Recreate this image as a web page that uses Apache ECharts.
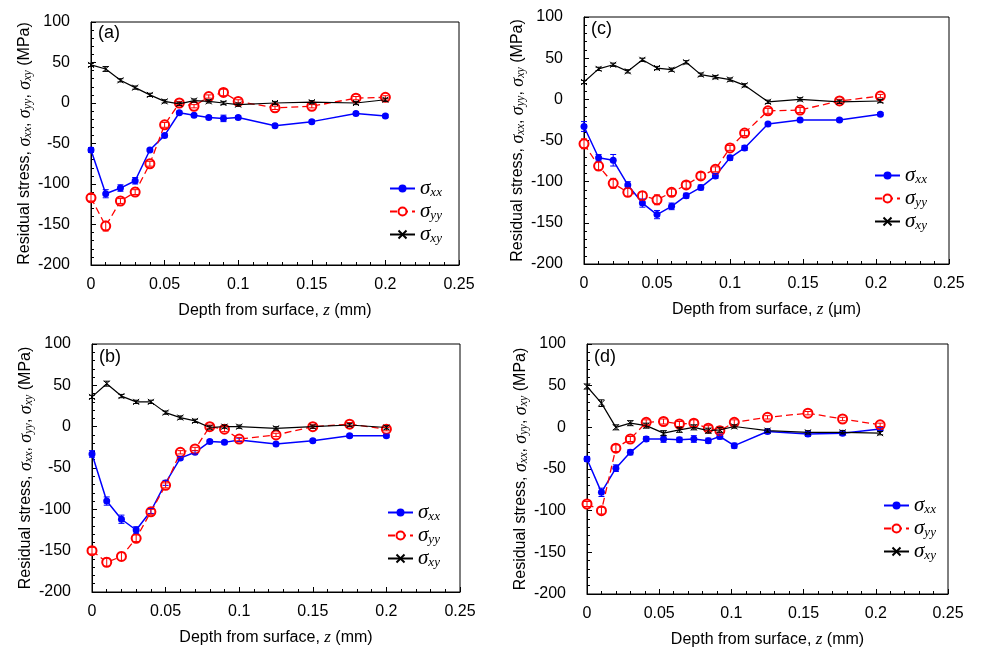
<!DOCTYPE html>
<html><head><meta charset="utf-8">
<script src="https://cdn.jsdelivr.net/npm/echarts@6/dist/echarts.min.js"></script>
<style>html,body{margin:0;padding:0;background:#fff}#c{width:988px;height:649px}</style>
</head><body><div id="c"></div>
<script>
// Panel (a)
const aDepth = [0,0.01,0.02,0.03,0.04,0.05,0.06,0.07,0.08,0.09,0.10,0.125,0.15,0.18,0.20];
const aSxx = [-58,-112,-105,-96,-58,-40,-12,-15,-18,-19,-18,-28,-23,-13,-16];
const aSyy = [-117,-152,-121,-110,-75,-27,0,-4,8,13,2,-6,-4,6,7];
const aSxy = [47,42,28,19,10,2,-1,3,2,0,-2,0,1,0,4];
const aExx = [3,5,4,4,2,2,2,2,2,4,2,2,2,2,2];
const aEyy = [4,6,3,3,3,3,2,2,2,4,2,2,2,2,2];
const aExy = [2,3,2,2,2,2,2,2,2,2,2,2,2,2,2];
// Panel (b)
const bDepth = [0,0.01,0.02,0.03,0.04,0.05,0.06,0.07,0.08,0.09,0.10,0.125,0.15,0.175,0.20];
const bSxx = [-33,-90,-112,-125,-102,-68,-38,-31,-18,-19,-16,-21,-17,-11,-11];
const bSyy = [-150,-164,-157,-135,-103,-71,-31,-27,0,-3,-15,-10,0,3,-3];
const bSxy = [36,52,37,30,30,17,11,7,-1,0,0,-2,0,2,-1];
const bExx = [4,5,5,4,3,3,2,2,2,2,2,2,2,2,2];
const bEyy = [4,5,5,4,3,3,2,2,2,3,2,2,2,2,2];
const bExy = [2,3,2,2,2,2,2,2,2,2,2,2,2,2,2];
// Panel (c)
const cDepth = [0,0.01,0.02,0.03,0.04,0.05,0.06,0.07,0.08,0.09,0.10,0.11,0.126,0.148,0.175,0.203];
const cSxx = [-33,-71,-74,-104,-126,-140,-130,-117,-107,-93,-71,-59,-30,-25,-25,-18];
const cSyy = [-54,-81,-102,-113,-117,-122,-113,-104,-93,-85,-59,-41,-14,-13,-2,4];
const cSxy = [21,37,42,34,48,38,36,45,30,27,24,17,-3,0,-3,-2];
const cExx = [6,4,7,4,5,5,4,3,3,3,3,3,2,2,2,2];
const cEyy = [6,5,6,5,5,6,4,4,4,3,3,3,3,3,2,2];
const cExy = [2,2,2,2,2,2,2,2,2,2,2,2,2,2,2,2];
// Panel (d)
const dDepth = [0,0.01,0.02,0.03,0.041,0.053,0.064,0.074,0.084,0.092,0.102,0.125,0.153,0.177,0.203];
const dSxx = [-38,-78,-49,-30,-14,-14,-15,-14,-16,-11,-22,-5,-8,-7,-2];
const dSyy = [-92,-100,-25,-14,6,7,4,5,-1,-4,6,12,17,10,3];
const dSxy = [49,29,0,5,2,-7,-3,0,-4,-3,1,-4,-6,-6,-7];
const dExx = [3,5,4,3,3,4,3,4,3,3,3,2,3,2,2];
const dEyy = [3,4,4,3,3,3,3,4,3,3,3,2,2,2,2];
const dExy = [3,4,3,3,3,3,3,3,3,3,2,2,2,2,2];

const xTicks = [0,0.05,0.1,0.15,0.2,0.25];
const yTicks = [-200,-150,-100,-50,0,50,100];

const panels = [
  {id:'a', label:'(a)', unit:'mm', depth:aDepth, xx:aSxx, yy:aSyy, xy:aSxy, exx:aExx, eyy:aEyy, exy:aExy,
   grid:{left:91, top:22, width:368, height:243}, legend:{left:384, top:173}, lab:{left:98, top:24}},
  {id:'c', label:'(c)', unit:'μm', depth:cDepth, xx:cSxx, yy:cSyy, xy:cSxy, exx:cExx, eyy:cEyy, exy:cExy,
   grid:{left:584, top:17, width:365, height:247}, legend:{left:869, top:160}, lab:{left:591, top:20}},
  {id:'b', label:'(b)', unit:'mm', depth:bDepth, xx:bSxx, yy:bSyy, xy:bSxy, exx:bExx, eyy:bEyy, exy:bExy,
   grid:{left:92, top:344, width:368, height:248}, legend:{left:382, top:497}, lab:{left:99, top:348}},
  {id:'d', label:'(d)', unit:'mm', depth:dDepth, xx:dSxx, yy:dSyy, xy:dSxy, exx:dExx, eyy:dEyy, exy:dExy,
   grid:{left:587, top:344, width:361, height:250}, legend:{left:878, top:490}, lab:{left:594, top:348}}
];

const serif = 'Liberation Serif';
const sans = 'Liberation Sans';
const rich = {
  s:{fontFamily:serif, fontStyle:'italic', fontSize:21, color:'#000'},
  t:{fontFamily:serif, fontStyle:'italic', fontSize:13, color:'#000', verticalAlign:'bottom', lineHeight:11},
  i:{fontFamily:serif, fontStyle:'italic', fontSize:17, color:'#000'}
};
const yrich = {
  s:{fontFamily:serif, fontStyle:'italic', fontSize:18, color:'#000'},
  t:{fontFamily:serif, fontStyle:'italic', fontSize:12, color:'#000', verticalAlign:'bottom', lineHeight:10},
  i:{fontFamily:serif, fontStyle:'italic', fontSize:17, color:'#000'}
};
const crossPath = 'path://M0,0L10,10M10,0L0,10';

const grids = [], xAxes = [], yAxes = [], series = [], legends = [], titles = [];
panels.forEach((p, k) => {
  grids.push(Object.assign({show:true, borderColor:'#000', borderWidth:1, backgroundColor:'transparent', outerBoundsMode:'none'}, p.grid));
  xAxes.push({
    gridIndex:k, type:'value', min:0, max:0.25, interval:0.05,
    axisLine:{show:true, onZero:false, lineStyle:{color:'#000', width:1}},
    axisTick:{show:true, inside:true, length:5, lineStyle:{color:'#000'}},
    minorTick:{show:true, splitNumber:5, length:3, lineStyle:{color:'#000'}},
    splitLine:{show:false},
    axisLabel:{fontFamily:sans, fontSize:16, color:'#000', margin:12,
      formatter: v => { const t = xTicks.find(q => Math.abs(q - v) < 1e-9); return t === undefined ? '' : String(t); }},
    name:'Depth from surface, {i|z} (' + p.unit + ')', nameLocation:'middle', nameGap:37,
    nameTextStyle:{fontFamily:sans, fontSize:16, color:'#000', rich:yrich}
  });
  yAxes.push({
    gridIndex:k, type:'value', min:-200, max:100, interval:50,
    axisLine:{show:true, onZero:false, lineStyle:{color:'#000', width:1}},
    axisTick:{show:true, inside:true, length:5, lineStyle:{color:'#000'}},
    minorTick:{show:true, splitNumber:5, length:3, lineStyle:{color:'#000'}},
    splitLine:{show:false},
    axisLabel:{fontFamily:sans, fontSize:16, color:'#000', margin:21,
      formatter: v => { const t = yTicks.find(q => q === v); return t === undefined ? '' : String(t); }},
    name:'Residual stress, {s|σ}{t|xx}, {s|σ}{t|yy}, {s|σ}{t|xy} (MPa)', nameLocation:'middle', nameRotate:90, nameGap:56,
    nameTextStyle:{fontFamily:sans, fontSize:16, color:'#000', rich:yrich}
  });
  const defs = [
    {key:'xx', vals:p.xx, errs:p.exx, color:'#0000ff', symbol:'circle', size:7, dash:'solid', width:1.5, bw:0},
    {key:'yy', vals:p.yy, errs:p.eyy, color:'#ff0000', symbol:'emptyCircle', size:9, dash:[7,4], width:1.3, bw:1.2},
    {key:'xy', vals:p.xy, errs:p.exy, color:'#000000', symbol:crossPath, size:6, dash:'solid', width:1.2, bw:1}
  ];
  defs.forEach((d, j) => {
    series.push({
      name: p.id + '|' + d.key, type:'line', xAxisIndex:k, yAxisIndex:k,
      data: p.depth.map((x, i) => [x, d.vals[i]]),
      symbol:d.symbol, symbolSize:d.size, showAllSymbol:true,
      lineStyle:{color:d.color, width:d.width, type:d.dash},
      itemStyle:{color:d.color, borderColor:d.color, borderWidth:d.bw},
      z: 3 + j, animation:false
    });
    series.push({
      name: p.id + '|' + d.key + '|err', type:'custom', xAxisIndex:k, yAxisIndex:k,
      data: p.depth.map((x, i) => [x, d.vals[i], d.errs[i]]),
      z: 8, animation:false, silent:true,
      renderItem: (params, api) => {
        const x = api.value(0), y = api.value(1), e = api.value(2);
        const top = api.coord([x, y + e]), bot = api.coord([x, y - e]);
        const hw = 3;
        const st = {stroke:d.color, lineWidth:1};
        return {type:'group', children:[
          {type:'line', shape:{x1:top[0], y1:top[1], x2:bot[0], y2:bot[1]}, style:st},
          {type:'line', shape:{x1:top[0]-hw, y1:top[1], x2:top[0]+hw, y2:top[1]}, style:st},
          {type:'line', shape:{x1:bot[0]-hw, y1:bot[1], x2:bot[0]+hw, y2:bot[1]}, style:st}
        ]};
      }
    });
  });
  legends.push({
    data:[p.id + '|xx', p.id + '|yy', p.id + '|xy'],
    orient:'vertical', left:p.legend.left, top:p.legend.top, itemWidth:25, itemHeight:10, itemGap:2,
    selectedMode:false,
    formatter: n => '{s|σ}{t|' + n.split('|')[1] + '}',
    textStyle:{fontFamily:sans, fontSize:16, color:'#000', rich:rich}
  });
  titles.push({text:p.label, left:p.lab.left, top:p.lab.top, padding:0,
    textStyle:{fontFamily:sans, fontSize:18, fontWeight:'normal', color:'#000'}});
});

const chart = echarts.init(document.getElementById('c'), null, {renderer:'canvas'});
chart.setOption({
  animation:false, backgroundColor:'#fff',
  title:titles, grid:grids, xAxis:xAxes, yAxis:yAxes, legend:legends, series:series
});
</script></body></html>
